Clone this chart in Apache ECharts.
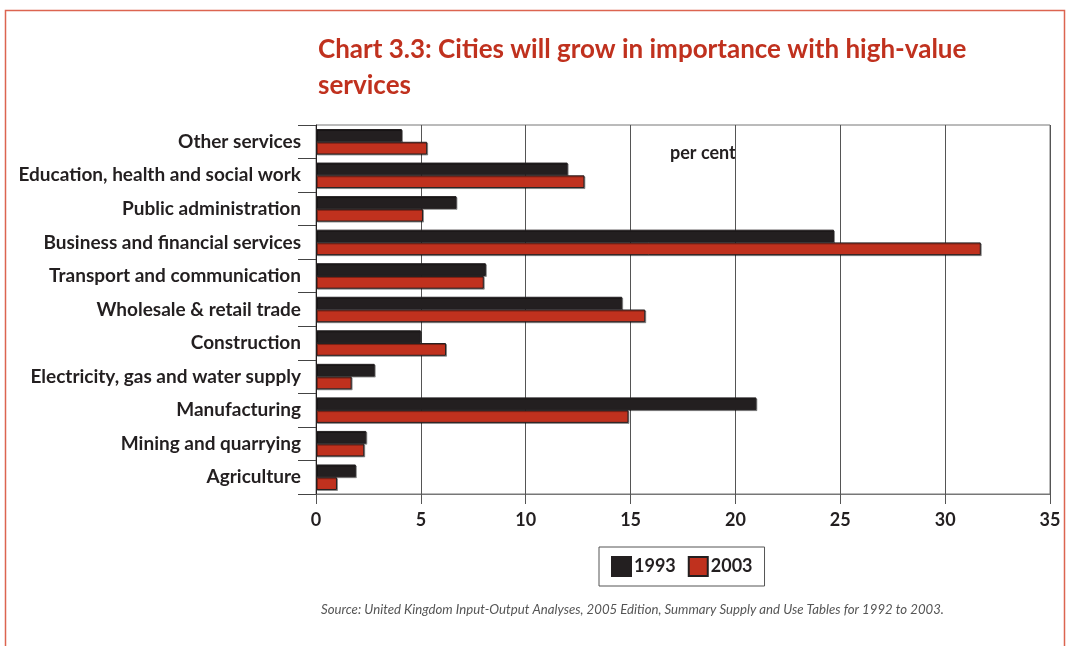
<!DOCTYPE html>
<html>
<head>
<meta charset="utf-8">
<script src="https://cdn.jsdelivr.net/npm/echarts@6/dist/echarts.min.js"></script>
<style>
  html, body { margin: 0; padding: 0; background: #ffffff; }
  #chart { width: 1068px; height: 646px; }
</style>
</head>
<body>
<div id="chart"></div>
<script>
// Sectors, listed top to bottom
const categories = [
  'Other services',
  'Education, health and social work',
  'Public administration',
  'Business and financial services',
  'Transport and communication',
  'Wholesale & retail trade',
  'Construction',
  'Electricity, gas and water supply',
  'Manufacturing',
  'Mining and quarrying',
  'Agriculture'
];

// Share of output, per cent
const values1993 = [4.1, 12.0, 6.7, 24.7, 8.1, 14.6, 5.0, 2.8, 21.0, 2.4, 1.9];
const values2003 = [5.3, 12.8, 5.1, 31.7, 8.0, 15.7, 6.2, 1.7, 14.9, 2.3, 1.0];

const seriesNames = ['1993', '2003'];
const xTicks = [0, 5, 10, 15, 20, 25, 30, 35];

const TITLE = 'Chart 3.3: Cities will grow in importance with high-value\nservices';
const SOURCE = 'Source: United Kingdom Input-Output Analyses, 2005 Edition, Summary Supply and Use Tables for 1992 to 2003.';

const FONT = 'Lato';
const INK = '#231f20';
const RED = '#c0311e';

const chart = echarts.init(document.getElementById('chart'), null, { renderer: 'canvas' });

const barStyle = (color) => ({
  color: color,
  borderColor: INK,
  borderWidth: 1,
  shadowColor: 'rgba(0,0,0,0.35)',
  shadowOffsetX: 1,
  shadowOffsetY: 1,
  shadowBlur: 0
});

chart.setOption({
  backgroundColor: '#ffffff',
  animation: false,
  title: {
    text: TITLE,
    left: 313,
    top: 27,
    textStyle: {
      fontFamily: FONT,
      fontWeight: 'bold',
      fontSize: 26,
      lineHeight: 36,
      color: RED
    }
  },
  legend: {
    data: seriesNames,
    left: 599,
    top: 547,
    orient: 'horizontal',
    icon: 'rect',
    itemWidth: 19,
    itemHeight: 19,
    itemGap: 12,
    padding: [9, 12, 9, 12],
    borderColor: '#555',
    borderWidth: 1,
    textStyle: {
      fontFamily: FONT,
      fontWeight: 'bold',
      fontSize: 18,
      color: INK,
      padding: [0, 0, 0, -2]
    }
  },
  grid: {
    left: 316,
    right: 18,
    top: 125,
    height: 369,
    show: true,
    borderColor: '#777',
    borderWidth: 1,
    containLabel: false
  },
  xAxis: {
    type: 'value',
    min: 0,
    max: 35,
    interval: 5,
    axisLine: { show: true, lineStyle: { color: '#777', width: 1 } },
    axisTick: { show: true, length: 10, lineStyle: { color: '#555' } },
    axisLabel: {
      margin: 17,
      fontFamily: FONT,
      fontWeight: 'bold',
      fontSize: 18,
      color: INK,
      formatter: (v) => (xTicks.includes(v) ? String(v) : '')
    },
    splitLine: { show: true, lineStyle: { color: '#555', width: 1 } }
  },
  yAxis: {
    type: 'category',
    data: categories,
    inverse: true,
    axisLine: { show: true, lineStyle: { color: INK, width: 1 } },
    axisTick: { show: true, length: 18, alignWithLabel: false, lineStyle: { color: '#444' } },
    axisLabel: {
      margin: 15,
      fontFamily: FONT,
      fontWeight: 'bold',
      fontSize: 19,
      color: INK
    },
    splitLine: { show: false }
  },
  series: [
    {
      name: seriesNames[0],
      type: 'bar',
      data: values1993,
      barGap: '0%',
      barCategoryGap: '24%',
      itemStyle: barStyle(INK)
    },
    {
      name: seriesNames[1],
      type: 'bar',
      data: values2003,
      barGap: '0%',
      barCategoryGap: '24%',
      itemStyle: barStyle(RED)
    }
  ],
  graphic: [
    {
      type: 'rect',
      shape: { x: 5.5, y: 10.5, width: 1059, height: 700 },
      style: { fill: null, stroke: '#dc6450', lineWidth: 1.5 },
      silent: true,
      z: -1
    },
    {
      type: 'text',
      left: 670,
      top: 144,
      style: {
        text: 'per cent',
        fontFamily: FONT,
        fontWeight: 'bold',
        fontSize: 18,
        fill: INK
      }
    },
    {
      type: 'text',
      left: 321,
      top: 603,
      style: {
        text: SOURCE,
        fontFamily: FONT,
        fontStyle: 'italic',
        fontSize: 13.2,
        fill: '#555'
      }
    }
  ]
});
</script>
</body>
</html>
